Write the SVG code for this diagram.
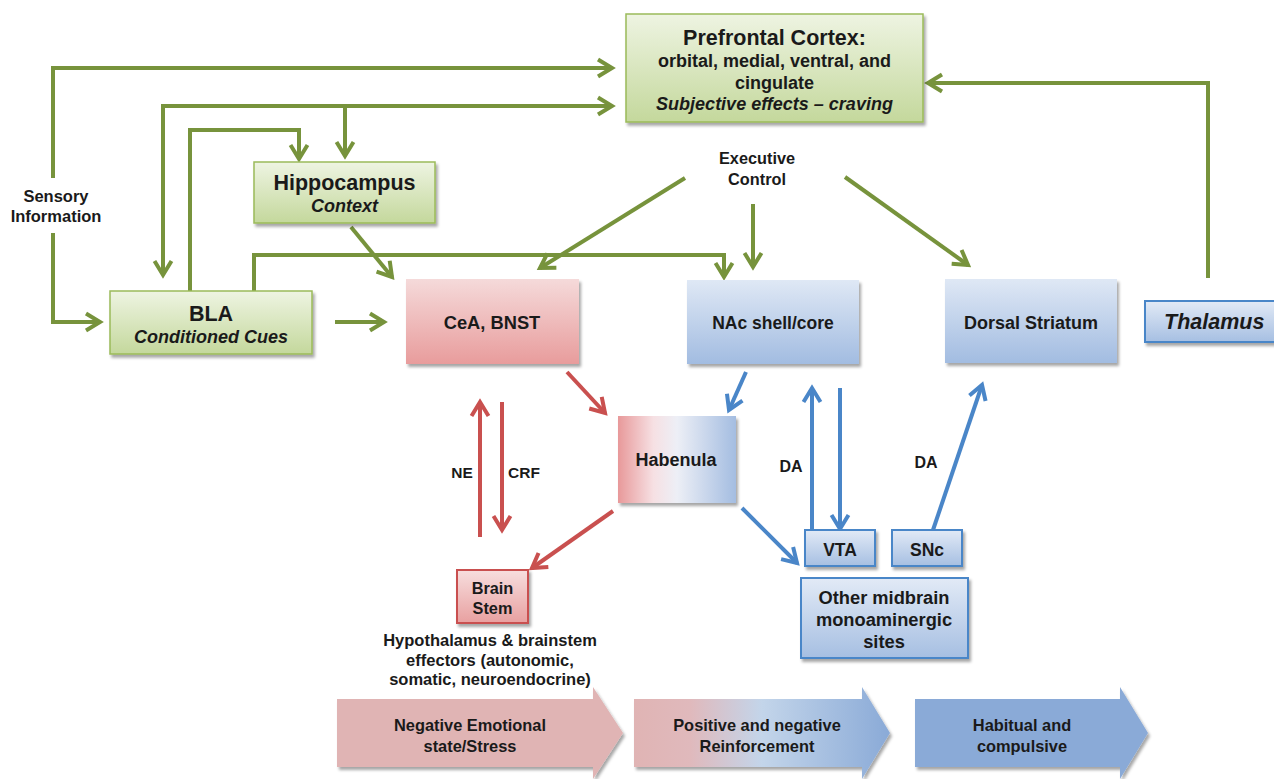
<svg xmlns="http://www.w3.org/2000/svg" width="1274" height="779" viewBox="0 0 1274 779">
<style>
text{font-family:"Liberation Sans",Arial,sans-serif;font-weight:bold;fill:#1a1a1a;text-anchor:middle}
.it{font-style:italic}
.g{fill:none;stroke:#77933C;stroke-width:4}
.r{fill:none;stroke:#C9504F;stroke-width:4}
.b{fill:none;stroke:#4A86C8;stroke-width:4}
.gbox{fill:url(#gGreen);stroke:#9BBB59;stroke-width:1.5;filter:url(#sh)}
.pbox{fill:url(#gPink);filter:url(#sh)}
.bbox{fill:url(#gBlue);filter:url(#sh)}
.bbox2{fill:url(#gBlue2);stroke:#4A86C8;stroke-width:2;filter:url(#sh)}
.rbox{fill:url(#gPink2);stroke:#C9504F;stroke-width:2;filter:url(#sh)}
</style>
<defs>
<filter id="sh" x="-10%" y="-10%" width="130%" height="140%"><feDropShadow dx="2" dy="3" stdDeviation="1.5" flood-color="#000" flood-opacity="0.35"/></filter>
<linearGradient id="gGreen" x1="0" y1="0" x2="0" y2="1"><stop offset="0" stop-color="#EEF4E2"/><stop offset="1" stop-color="#C4D89C"/></linearGradient>
<linearGradient id="gPink" x1="0" y1="0" x2="0" y2="1"><stop offset="0" stop-color="#F5DADA"/><stop offset="1" stop-color="#E89C9C"/></linearGradient>
<linearGradient id="gPink2" x1="0" y1="0" x2="0" y2="1"><stop offset="0" stop-color="#F7DEDE"/><stop offset="1" stop-color="#E8A0A0"/></linearGradient>
<linearGradient id="gBlue" x1="0" y1="0" x2="0" y2="1"><stop offset="0" stop-color="#DFE8F5"/><stop offset="1" stop-color="#A2BCE1"/></linearGradient>
<linearGradient id="gBlue2" x1="0" y1="0" x2="0" y2="1"><stop offset="0" stop-color="#E2EAF6"/><stop offset="1" stop-color="#A6BFE2"/></linearGradient>
<linearGradient id="gHab" x1="0" y1="0" x2="1" y2="0"><stop offset="0" stop-color="#E8999A"/><stop offset="0.3" stop-color="#F6E0E3"/><stop offset="0.5" stop-color="#EDEFF6"/><stop offset="1" stop-color="#A4BDE1"/></linearGradient>
<linearGradient id="gArr2" x1="0" y1="0" x2="1" y2="0"><stop offset="0" stop-color="#E0B4B4"/><stop offset="0.22" stop-color="#E0B9BC"/><stop offset="0.5" stop-color="#C3D5EA"/><stop offset="1" stop-color="#8AAAD7"/></linearGradient>
<marker id="ag" markerUnits="userSpaceOnUse" markerWidth="22" markerHeight="22" viewBox="0 0 22 22" refX="18" refY="11" orient="auto-start-reverse"><path d="M4,2.5 L18,11 L4,19.5" fill="none" stroke="#77933C" stroke-width="4"/></marker>
<marker id="ar" markerUnits="userSpaceOnUse" markerWidth="22" markerHeight="22" viewBox="0 0 22 22" refX="18" refY="11" orient="auto"><path d="M4,2.5 L18,11 L4,19.5" fill="none" stroke="#C9504F" stroke-width="4"/></marker>
<marker id="ab" markerUnits="userSpaceOnUse" markerWidth="22" markerHeight="22" viewBox="0 0 22 22" refX="18" refY="11" orient="auto"><path d="M4,2.5 L18,11 L4,19.5" fill="none" stroke="#4A86C8" stroke-width="4"/></marker>
</defs>

<g id="connectors">
<path class="g" d="M53,178 V68 H612" marker-end="url(#ag)"/>
<path class="g" d="M53,233 V322 H100" marker-end="url(#ag)"/>
<path class="g" d="M163,275 V106 H612" marker-start="url(#ag)" marker-end="url(#ag)"/>
<path class="g" d="M345,106 V156" marker-end="url(#ag)"/>
<path class="g" d="M190,291 V130 H299 V159" marker-end="url(#ag)"/>
<path class="g" d="M254,291 V255 H724 V277" marker-end="url(#ag)"/>
<path class="g" d="M351,227 L392,277" marker-end="url(#ag)"/>
<path class="g" d="M335,322 H384" marker-end="url(#ag)"/>
<path class="g" d="M685,178 L540,268" marker-end="url(#ag)"/>
<path class="g" d="M753,204 V267" marker-end="url(#ag)"/>
<path class="g" d="M845,177 L968,265" marker-end="url(#ag)"/>
<path class="g" d="M1208,278 V83 H928" marker-end="url(#ag)"/>
<path class="r" d="M567,372 L605,413" marker-end="url(#ar)"/>
<path class="r" d="M480,537 V402" marker-end="url(#ar)"/>
<path class="r" d="M502,402 V530" marker-end="url(#ar)"/>
<path class="r" d="M613,511 L532,568" marker-end="url(#ar)"/>
<path class="b" d="M746,372 L729,410" marker-end="url(#ab)"/>
<path class="b" d="M812,530 V388" marker-end="url(#ab)"/>
<path class="b" d="M840,388 V529" marker-end="url(#ab)"/>
<path class="b" d="M933,530 L982,385" marker-end="url(#ab)"/>
<path class="b" d="M742,508 L797,563" marker-end="url(#ab)"/>
</g>

<g id="labels">
<text x="56" y="202" font-size="16.5">Sensory</text>
<text x="56" y="222" font-size="16.5">Information</text>
<text x="757" y="164" font-size="16.3">Executive</text>
<text x="757" y="185" font-size="16.3">Control</text>
<text x="462" y="478" font-size="15.5">NE</text>
<text x="524" y="478" font-size="15.5">CRF</text>
<text x="791" y="472" font-size="16">DA</text>
<text x="926" y="468" font-size="16">DA</text>
<text x="490" y="646" font-size="16.5">Hypothalamus &amp; brainstem</text>
<text x="490" y="666" font-size="16.5">effectors (autonomic,</text>
<text x="490" y="685" font-size="16.5">somatic, neuroendocrine)</text>
</g>

<g id="pfc">
<rect class="gbox" x="626" y="14" width="297" height="108"/>
<text x="774.5" y="44.5" font-size="21.5">Prefrontal Cortex:</text>
<text x="774.5" y="66.5" font-size="18">orbital, medial, ventral, and</text>
<text x="774.5" y="88.5" font-size="18">cingulate</text>
<text class="it" x="774.5" y="109.5" font-size="18">Subjective effects – craving</text>
</g>
<g id="hippocampus">
<rect class="gbox" x="254" y="162" width="181" height="61"/>
<text x="344.5" y="190" font-size="21.5">Hippocampus</text>
<text class="it" x="344.5" y="212" font-size="18">Context</text>
</g>
<g id="bla">
<rect class="gbox" x="110" y="291" width="202" height="63"/>
<text x="211" y="321" font-size="21.5">BLA</text>
<text class="it" x="211" y="343" font-size="18">Conditioned Cues</text>
</g>
<g id="cea">
<rect class="pbox" x="406" y="279" width="173" height="85"/>
<text x="492" y="329" font-size="18.3">CeA, BNST</text>
</g>
<g id="nac">
<rect class="bbox" x="687" y="280" width="172" height="84"/>
<text x="773" y="329" font-size="17.5">NAc shell/core</text>
</g>
<g id="dorsal-striatum">
<rect class="bbox" x="945" y="279" width="172" height="84"/>
<text x="1031" y="329" font-size="18">Dorsal Striatum</text>
</g>
<g id="thalamus">
<rect class="bbox2" x="1145" y="301" width="140" height="41"/>
<text class="it" x="1164" y="329" font-size="21.5" style="text-anchor:start">Thalamus</text>
</g>
<g id="habenula">
<rect x="618" y="416" width="118" height="87" fill="url(#gHab)" filter="url(#sh)"/>
<text x="676" y="466" font-size="18">Habenula</text>
</g>
<g id="vta">
<rect class="bbox2" x="805" y="530" width="70" height="36"/>
<text x="840" y="556" font-size="17.5">VTA</text>
</g>
<g id="snc">
<rect class="bbox2" x="892" y="530" width="70" height="36"/>
<text x="927" y="556" font-size="17.5">SNc</text>
</g>
<g id="other-midbrain">
<rect class="bbox2" x="801" y="578" width="167" height="80"/>
<text x="884" y="604" font-size="18.3">Other midbrain</text>
<text x="884" y="626" font-size="18.3">monoaminergic</text>
<text x="884" y="648" font-size="18.3">sites</text>
</g>
<g id="brain-stem">
<rect class="rbox" x="457" y="570" width="71" height="53"/>
<text x="492.5" y="594" font-size="16.3">Brain</text>
<text x="492.5" y="614" font-size="16.3">Stem</text>
</g>

<g id="stage-negative">
<path d="M337,699 H593 V687 L623,733 L593,779 V767 H337 Z" fill="#E0B4B4" filter="url(#sh)"/>
<text x="470" y="731" font-size="16.4">Negative Emotional</text>
<text x="470" y="752" font-size="16.4">state/Stress</text>
</g>
<g id="stage-reinforcement">
<path d="M634,699 H862 V687 L890,733 L862,779 V767 H634 Z" fill="url(#gArr2)" filter="url(#sh)"/>
<text x="757" y="731" font-size="16.4">Positive and negative</text>
<text x="757" y="752" font-size="16.4">Reinforcement</text>
</g>
<g id="stage-habitual">
<path d="M915,699 H1120 V687 L1148,733 L1120,779 V767 H915 Z" fill="#8AAAD7" filter="url(#sh)"/>
<text x="1022" y="731" font-size="16.4">Habitual and</text>
<text x="1022" y="752" font-size="16.4">compulsive</text>
</g>
</svg>
